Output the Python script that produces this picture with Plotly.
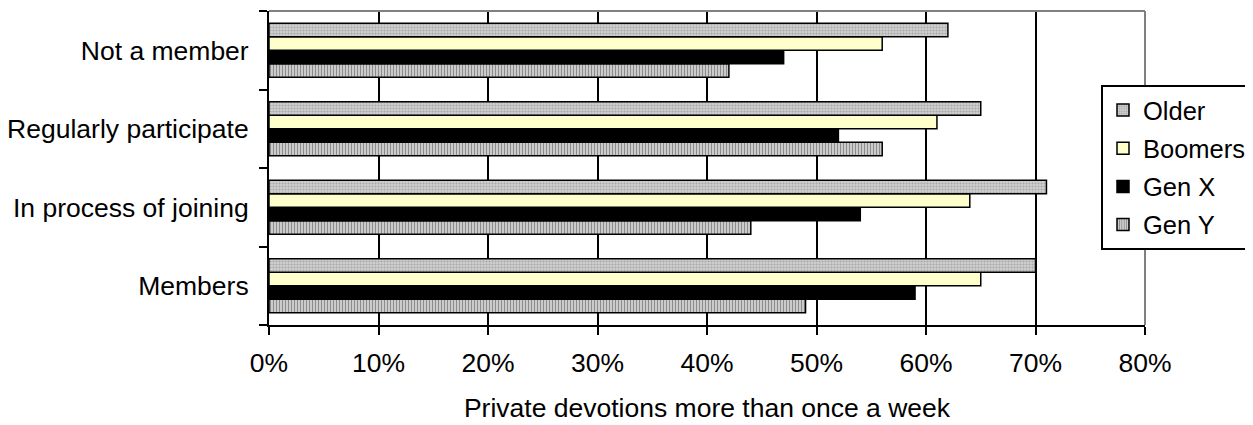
import plotly.graph_objects as go

categories = ["Members", "In process of joining", "Regularly participate", "Not a member"]
older = [70, 71, 65, 62]
boomers = [65, 64, 61, 56]
gen_x = [59, 54, 52, 47]
gen_y = [49, 44, 56, 42]
x_ticks = [0, 10, 20, 30, 40, 50, 60, 70, 80]
x_tick_labels = [f"{v}%" for v in x_ticks]

FONT = "Liberation Sans, Arial, sans-serif"
FS = 26.5

# page body has an 8px margin; compensate so the plot area sits at x 269..1145, y 11..325
OFF = 8
W, H = 1253 - OFF, 425 - OFF
ML, MR, MT, MB = 269 - OFF, 108, 11 - OFF, 100
PW, PH = W - ML - MR, H - MT - MB

fig = go.Figure()
line = dict(color="black", width=1.5)
fig.add_trace(go.Bar(
    y=categories, x=gen_y, name="Gen Y", orientation="h", legendgroup="d", legendrank=4,
    marker=dict(color="#d8d8d8", line=line,
                pattern=dict(shape="|", fgcolor="#404040", bgcolor="#d8d8d8", size=3, solidity=0.45)),
))
fig.add_trace(go.Bar(
    y=categories, x=gen_x, name="Gen X", orientation="h", legendgroup="c", legendrank=3,
    marker=dict(color="black", line=line),
))
fig.add_trace(go.Bar(
    y=categories, x=boomers, name="Boomers", orientation="h", legendgroup="b", legendrank=2,
    marker=dict(color="#FFFFCC", line=line),
))
fig.add_trace(go.Bar(
    y=categories, x=older, name="Older", orientation="h", legendgroup="a", legendrank=1,
    marker=dict(color="#c8c8c8", line=line,
                pattern=dict(shape=".", fgcolor="#808080", bgcolor="#d0d0d0", size=3, solidity=0.4)),
))

fig.update_layout(
    width=W, height=H,
    margin=dict(l=ML, r=MR, t=MT, b=MB, autoexpand=False),
    paper_bgcolor="white", plot_bgcolor="white",
    font=dict(family=FONT, size=FS, color="black"),
    barmode="group", bargap=0.31, bargroupgap=0,
    showlegend=True,
    legend=dict(
        x=(1101 - 269) / PW, y=(325 - 85) / PH, xanchor="left", yanchor="top",
        bgcolor="white", bordercolor="black", borderwidth=2,
        traceorder="grouped", tracegroupgap=2,
        font=dict(family=FONT, size=25.5, color="black"),
        itemwidth=30,
    ),
    xaxis=dict(
        range=[0, 80], tickvals=x_ticks, ticktext=x_tick_labels,
        showgrid=True, gridcolor="black", gridwidth=2,
        showline=True, linecolor="black", linewidth=2,
        ticks="outside", ticklen=8, tickwidth=2, tickcolor="black",
        ticklabelstandoff=5, automargin=False,
        zeroline=False,
        title=dict(text="Private devotions more than once a week", standoff=22,
                   font=dict(family=FONT, size=FS)),
        tickfont=dict(family=FONT, size=FS),
    ),
    yaxis=dict(
        type="category", categoryorder="array", categoryarray=categories,
        showline=True, linecolor="black", linewidth=2,
        ticks="outside", ticklen=8, tickwidth=2, tickcolor="black",
        tickson="boundaries", ticklabelstandoff=13, automargin=False,
        showgrid=False, zeroline=False,
        tickfont=dict(family=FONT, size=FS),
    ),
    shapes=[
        dict(type="line", xref="paper", yref="paper", x0=0, x1=1, y0=1, y1=1,
             line=dict(color="#808080", width=2)),
        dict(type="line", xref="paper", yref="paper", x0=1, x1=1, y0=0, y1=1,
             line=dict(color="#808080", width=2)),
    ],
)

fig.write_html("out.html")
